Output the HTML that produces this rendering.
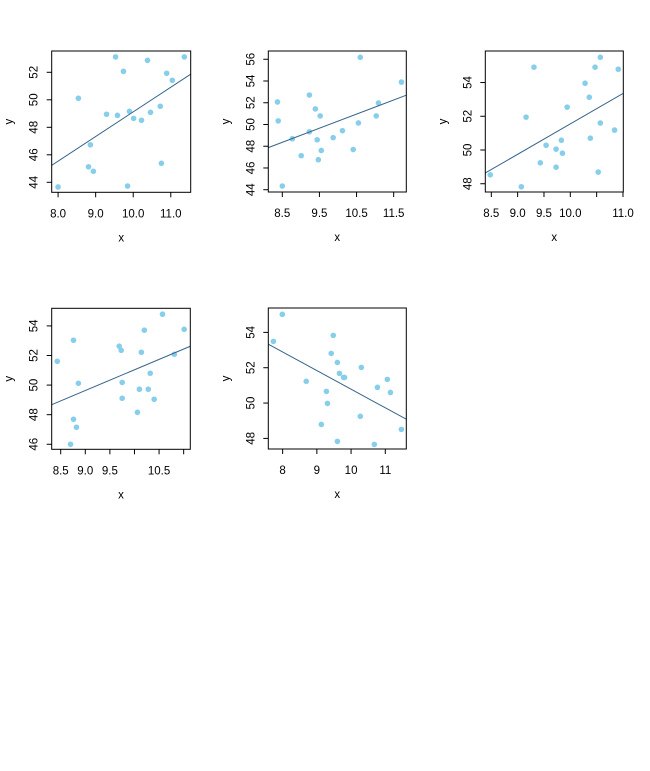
<!DOCTYPE html>
<html><head><meta charset="utf-8"><style>
html,body{margin:0;padding:0;background:#fff;width:650px;height:771px;overflow:hidden}
svg{display:block}
text{font-family:"Liberation Sans",Arial,sans-serif;font-size:11.5px;fill:#000}
</style></head><body>
<svg id="chart" width="650" height="771" xmlns="http://www.w3.org/2000/svg"></svg>
<script>
const p1x=[8.0,8.54,8.81,8.86,8.94,9.29,9.53,9.58,9.74,9.85,9.9,10.01,10.22,10.38,10.46,10.72,10.75,10.89,11.04,11.36];
const p1y=[43.66,50.11,45.13,46.73,44.8,48.95,53.12,48.87,52.07,43.73,49.16,48.65,48.51,52.87,49.09,49.53,45.38,51.93,51.42,53.12];
const p2x=[8.37,8.39,8.5,8.77,9.01,9.23,9.23,9.39,9.44,9.47,9.52,9.55,9.87,10.12,10.41,10.55,10.6,11.03,11.09,11.71];
const p2y=[52.07,50.33,44.34,48.69,47.13,52.71,49.33,51.43,48.59,46.76,50.79,47.61,48.79,49.43,47.7,50.14,56.18,50.79,51.98,53.9];
const p3x=[8.48,9.07,9.16,9.31,9.43,9.54,9.73,9.73,9.83,9.85,9.94,10.28,10.36,10.38,10.47,10.53,10.57,10.57,10.84,10.91];
const p3y=[48.53,47.82,51.95,54.91,49.24,50.28,50.05,48.98,50.58,49.81,52.54,53.96,53.13,50.7,54.91,48.69,55.5,51.6,51.18,54.79];
const p4x=[8.43,8.7,8.76,8.76,8.82,8.86,9.69,9.73,9.75,9.75,10.06,10.1,10.14,10.2,10.28,10.32,10.4,10.57,10.81,11.01];
const p4y=[51.61,46.0,53.03,47.69,47.15,50.12,52.63,52.35,50.18,49.11,48.16,49.72,52.22,53.71,49.72,50.8,49.04,54.79,52.08,53.77];
const p5x=[7.73,7.99,8.69,9.13,9.28,9.31,9.42,9.48,9.6,9.6,9.66,9.78,9.81,10.27,10.3,10.68,10.77,11.06,11.15,11.47];
const p5y=[53.49,55.02,51.23,48.79,50.66,49.98,52.81,53.83,52.3,47.83,51.68,51.45,51.45,49.25,52.02,47.66,50.89,51.34,50.6,48.51];
const xTicks1=[8,9,10,11], xLabels1=["8.0","9.0","10.0","11.0"], yTicks1=[44,46,48,50,52];
const xTicks2=[8.5,9.5,10.5,11.5], xLabels2=["8.5","9.5","10.5","11.5"], yTicks2=[44,46,48,50,52,54,56];
const xTicks3=[8.5,9,9.5,10,10.5,11], xLabels3=["8.5","9.0","9.5","10.0","","11.0"], yTicks3=[48,50,52,54];
const xTicks4=[8.5,9,9.5,10,10.5,11], xLabels4=["8.5","9.0","9.5","","10.5",""], yTicks4=[46,48,50,52,54];
const xTicks5=[8,9,10,11], xLabels5=["8","9","10","11"], yTicks5=[48,50,52,54];

const panels=[
 {xs:p1x,ys:p1y,xt:xTicks1,xl:xLabels1,yt:yTicks1,L:51.7,R:190.7,T:51,B:192.3,xd:[7.83,11.53],yd:[53.5,43.3]},
 {xs:p2x,ys:p2y,xt:xTicks2,xl:xLabels2,yt:yTicks2,L:268.3,R:406.3,T:51,B:192,xd:[8.123,11.84],yd:[56.76,43.79]},
 {xs:p3x,ys:p3y,xt:xTicks3,xl:xLabels3,yt:yTicks3,L:485.3,R:623.3,T:51,B:192,xd:[8.386,11.006],yd:[55.87,47.51]},
 {xs:p4x,ys:p4y,xt:xTicks4,xl:xLabels4,yt:yTicks4,L:51.7,R:190.3,T:308.3,B:449.3,xd:[8.317,11.135],yd:[55.19,45.66]},
 {xs:p5x,ys:p5y,xt:xTicks5,xl:xLabels5,yt:yTicks5,L:268.3,R:406.3,T:308,B:449,xd:[7.581,11.614],yd:[55.38,47.4]}
];
panels[0].yd=[52+(72.3-51)/13.75,44-(192.3-182.3)/13.75];

const NS="http://www.w3.org/2000/svg";
const svg=document.getElementById('chart');
function mk(tag,attrs,parent){const e=document.createElementNS(NS,tag);for(const k in attrs)e.setAttribute(k,attrs[k]);(parent||svg).appendChild(e);return e;}

panels.forEach((p,i)=>{
 const g=mk('g',{});
 
 
 const sx=v=>p.L+(v-p.xd[0])/(p.xd[1]-p.xd[0])*(p.R-p.L);
 const sy=v=>p.T+(v-p.yd[0])/(p.yd[1]-p.yd[0])*(p.B-p.T);
 const cp=mk('clipPath',{id:'clip'+i},g);
 mk('rect',{x:p.L,y:p.T,width:p.R-p.L,height:p.B-p.T},cp);
 p.xs.forEach((xv,j)=>{
  const c=mk('circle',{cx:sx(xv),cy:sy(p.ys[j]),r:2.8,fill:'#87CEEB'},g);
  
  
 });
 const n=p.xs.length;let mx=0,my=0;p.xs.forEach((v,j)=>{mx+=v;my+=p.ys[j];});mx/=n;my/=n;
 let sxy=0,sxx=0;p.xs.forEach((v,j)=>{sxy+=(v-mx)*(p.ys[j]-my);sxx+=(v-mx)*(v-mx);});
 const b=sxy/sxx,a=my-b*mx;
 const ln=mk('line',{x1:sx(p.xd[0]),y1:sy(a+b*p.xd[0]),x2:sx(p.xd[1]),y2:sy(a+b*p.xd[1]),stroke:'#36648B','stroke-width':1,'clip-path':'url(#clip'+i+')'},g);
 
 
 const bx=mk('rect',{x:p.L,y:p.T,width:p.R-p.L,height:p.B-p.T,fill:'none',stroke:'#000','stroke-width':1},g);
 
 
 const xa=mk('g',{},g);
 
 
 p.xt.forEach((t,j)=>{
  mk('line',{x1:sx(t),y1:p.B,x2:sx(t),y2:p.B+5,stroke:'#000'},xa);
  if(p.xl[j]){const tx=mk('text',{x:sx(t),y:p.B+25,'text-anchor':'middle'},xa);tx.textContent=p.xl[j];
   
   }
 });
 const xt=mk('text',{x:(p.L+p.R)/2,y:p.B+49,'text-anchor':'middle'},g);xt.textContent='x';
 
 
 const ya=mk('g',{},g);
 
 
 p.yt.forEach(t=>{
  mk('line',{x1:p.L,y1:sy(t),x2:p.L-5,y2:sy(t),stroke:'#000'},ya);
  const tx=mk('text',{x:0,y:0,'text-anchor':'middle',transform:'translate('+(p.L-14)+','+sy(t)+') rotate(-90)'},ya);
  tx.textContent=String(t);
  
  
 });
 const yt=mk('text',{x:0,y:0,'text-anchor':'middle',transform:'translate('+(p.L-39)+','+((p.T+p.B)/2)+') rotate(-90)'},g);yt.textContent='y';
 
 
});
</script>
</body></html>
